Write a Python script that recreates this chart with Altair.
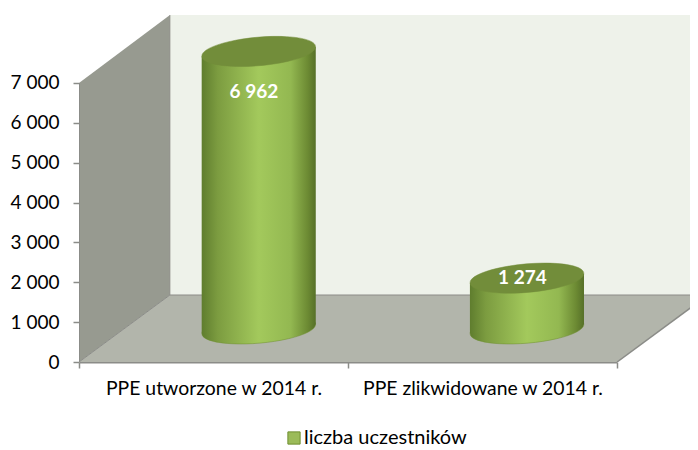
import altair as alt
import pandas as pd

categories = ["PPE utworzone w 2014 r.", "PPE zlikwidowane w 2014 r."]
values = [6962, 1274]
value_labels = ["6 962", "1 274"]
series_name = "liczba uczestników"
y_ticks = [0, 1000, 2000, 3000, 4000, 5000, 6000, 7000]

# 3D construction, in axis units
DX, DY = 0.338, 1681      # depth of the box
X_MAX, Y_MAX = 2.271, 8706
CENTERS = [0.668, 1.665]  # cylinder centres
HALF = 0.212              # cylinder half width
LIFT = 830                # cylinder base above the front edge
TILT = 113                # tilt of the ellipses
LABEL_Y = [6780, 2110]
LABEL_X = [0.65, 1.648]

FONT = "Lato"
GREY = "#8b8c88"
BODY = alt.LinearGradient(gradient="linear", x1=0, x2=1, y1=0, y2=0, stops=[
    alt.GradientStop(offset=0, color="#5f7d2e"),
    alt.GradientStop(offset=0.14, color="#7c9c40"),
    alt.GradientStop(offset=0.5, color="#a3c95c"),
    alt.GradientStop(offset=0.78, color="#93b851"),
    alt.GradientStop(offset=0.93, color="#6c8a33"),
    alt.GradientStop(offset=1, color="#567028"),
])
ELLIPSE = "M-0.996,0.087 A1,0.245 -5 1 1 0.996,-0.087 A1,0.245 -5 1 1 -0.996,0.087 Z"

xs = alt.Scale(domain=[0, X_MAX], nice=False, zero=False)
ys = alt.Scale(domain=[0, Y_MAX], nice=False, zero=True)


def X(f):
    return alt.X(f, type="quantitative", scale=xs, axis=None)


def Y(f):
    return alt.Y(f, type="quantitative", scale=ys, title=None)


# axis layer: the category band axis and the value axis
axis_df = pd.DataFrame({"cat": categories, "zero": [0, 0]})
axes = alt.Chart(axis_df).mark_rule(opacity=0).encode(
    x=alt.X("cat:N", sort=categories, title=None,
            scale=alt.Scale(range=[0, 538], paddingInner=0, paddingOuter=0),
            axis=alt.Axis(labelAngle=0, tickBand="extent", domainColor=GREY, domainWidth=2,
                          tickColor=GREY, tickWidth=1.5, tickSize=6, labelFont=FONT,
                          labelFontSize=19.4, labelColor="#000000", labelPadding=11, labelLimit=300)),
    y=alt.Y("zero:Q", scale=ys, title=None,
            axis=alt.Axis(values=y_ticks, domain=False, grid=False, tickColor=GREY, tickWidth=1.5,
                          tickSize=6, labelFont=FONT, labelFontSize=19, labelColor="#000000",
                          labelPadding=14, labelExpr="replace(datum.label, ',', ' ')")),
)

back_df = pd.DataFrame({"x": [DX, X_MAX], "y": [DY, DY], "y2": [Y_MAX, Y_MAX]})
back = alt.Chart(back_df).mark_area(color="#eef2ea").encode(x=X("x"), y=Y("y"), y2="y2")

left_df = pd.DataFrame({"x": [0, DX], "y": [0, DY], "y2": [7000, Y_MAX]})
left = alt.Chart(left_df).mark_area(color="#979a90").encode(x=X("x"), y=Y("y"), y2="y2")

floor_df = pd.DataFrame({"y": [0, DY], "x": [0, DX], "x2": [2, 2 + DX]})
floor = alt.Chart(floor_df).mark_area(color="#b2b5ab", orient="horizontal", clip=True).encode(
    x=X("x"), x2="x2", y=Y("y"))

edge_df = pd.DataFrame({
    "x": [0, 2, DX, DX, 0],
    "x2": [DX, 2 + DX, X_MAX + DX, DX, 0],
    "y": [0, 0, DY, DY, 0],
    "y2": [DY, DY, DY, Y_MAX, 7000],
    "w": [1, 1.5, 1.2, 0.8, 2],
})
edges = alt.Chart(edge_df).mark_rule(color=GREY, clip=True).encode(
    x=X("x"), x2="x2", y=Y("y"), y2="y2", strokeWidth=alt.StrokeWidth("w:Q", scale=None))

rows = []
for i, (c, v) in enumerate(zip(CENTERS, values)):
    rows.append({"id": i, "x": c - HALF, "top": LIFT + v - TILT, "base": LIFT - TILT})
    rows.append({"id": i, "x": c + HALF, "top": LIFT + v + TILT, "base": LIFT + TILT})
body = alt.Chart(pd.DataFrame(rows)).mark_area(color=BODY).encode(
    x=X("x"), y=Y("base"), y2="top", detail="id:N")

cyl_df = pd.DataFrame({"x": CENTERS, "v": values, "base": [LIFT, LIFT],
                       "top": [LIFT + v for v in values]})
bottoms = alt.Chart(cyl_df).mark_point(shape=ELLIPSE, size=12996, filled=True, opacity=1,
                                       fill=BODY, stroke="#6f8f30", strokeWidth=0.5).encode(
    x=X("x"), y=Y("base"))
bodies_top = alt.Chart(cyl_df).mark_point(shape=ELLIPSE, size=12996, filled=True, opacity=1,
                                          fill="#728d3a", stroke="#728d3a", strokeWidth=0.5).encode(
    x=X("x"), y=Y("top"))

label_df = pd.DataFrame({"x": LABEL_X, "y": LABEL_Y, "t": value_labels})
labels = alt.Chart(label_df).mark_text(font=FONT, fontSize=19, fontWeight="bold", color="#ffffff").encode(
    x=X("x"), y=Y("y"), text="t:N")

legend_df = pd.DataFrame({"s": [series_name], "x": [0.0], "y": [0.0]})
legend = alt.Chart(legend_df).mark_square(size=0).encode(
    x=X("x"), y=Y("y"),
    color=alt.Color("s:N", title=None, scale=alt.Scale(range=["#9bbb59"]),
                    legend=alt.Legend(orient="none", legendX=205, legendY=413, symbolType="square",
                                      symbolSize=150, symbolStrokeColor="#6f8f30",
                                      symbolStrokeWidth=1, symbolOpacity=1, labelFont=FONT,
                                      labelFontSize=20, labelColor="#000000", labelOffset=0,
                                      labelLimit=300)),
)

chart = alt.layer(axes, back, left, floor, edges, bottoms, body, bodies_top, labels, legend).resolve_scale(
    x="independent"
).properties(
    width=611, height=347,
    autosize=alt.AutoSizeParams(type="none"),
    padding={"left": 71, "top": 7, "right": 0, "bottom": 88},
).configure_view(stroke=None)

chart.save("out.html", embed_options={"renderer": "svg", "actions": False})
